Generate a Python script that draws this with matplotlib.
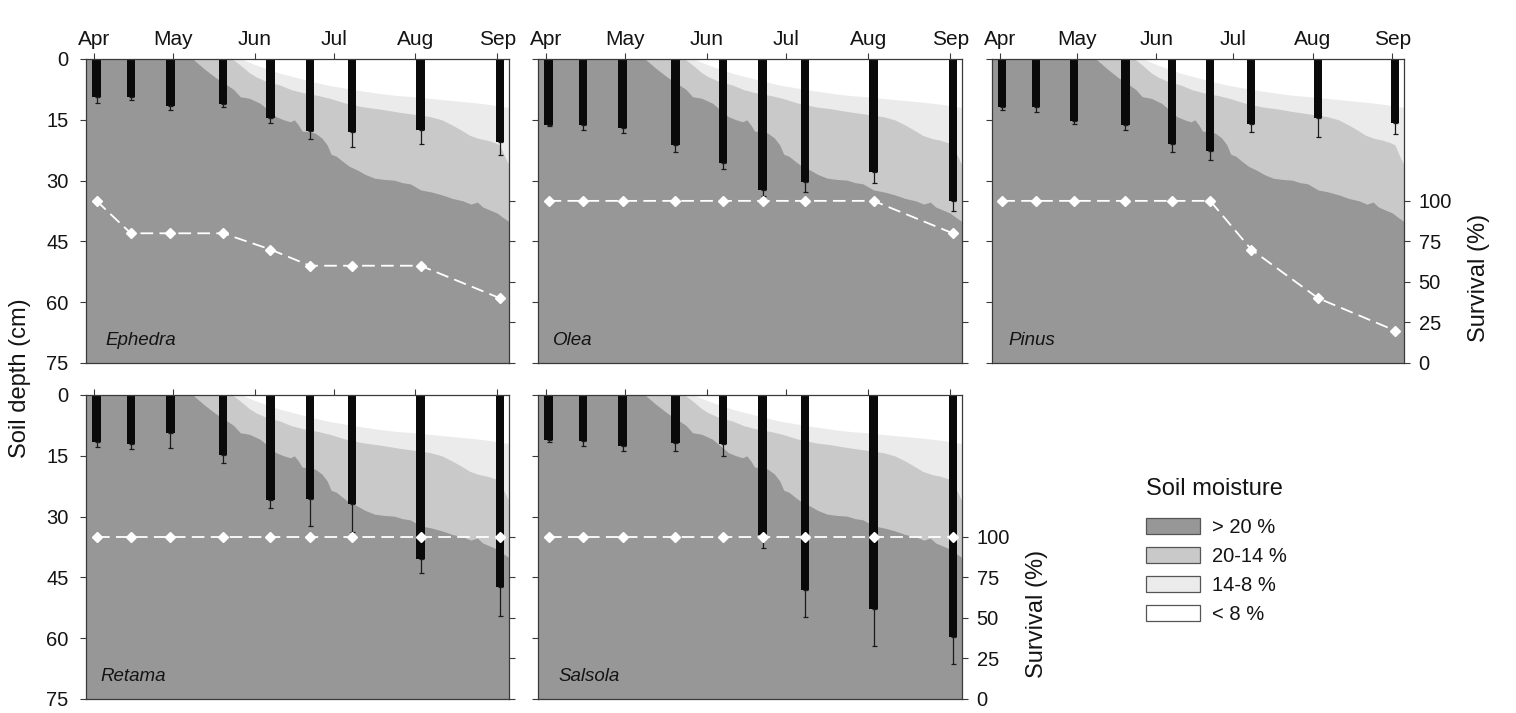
import matplotlib
matplotlib.use("Agg")
import matplotlib.pyplot as plt
from matplotlib.patches import Patch

plt.rcParams['font.family'] = ['Liberation Sans', 'DejaVu Sans']

# ---------------- data ----------------
species = ["Ephedra", "Olea", "Pinus", "Retama", "Salsola"]
months = ["Apr", "May", "Jun", "Jul", "Aug", "Sep"]
month_days = [91, 121, 152, 182, 213, 244]
sample_days = [92, 105, 120, 140, 158, 173, 189, 215, 245]

# root depth (cm) and lower error (cm)
root_ephedra = [9.4, 9.4, 11.6, 11.2, 14.6, 17.8, 17.9, 17.5, 20.6]
err_ephedra = [1.5, 0.7, 1.1, 0.7, 1.3, 1.9, 3.9, 3.5, 3.2]
root_olea = [16.4, 16.3, 17.1, 21.1, 25.7, 32.2, 30.4, 28.0, 35.0]
err_olea = [0.2, 1.2, 1.1, 1.9, 1.4, 1.6, 2.3, 2.7, 2.5]
root_pinus = [11.9, 11.8, 15.3, 16.3, 20.9, 22.6, 16.0, 14.6, 15.8]
err_pinus = [0.7, 1.2, 0.7, 1.3, 2.0, 2.2, 2.1, 4.7, 2.8]
root_retama = [11.5, 12.2, 9.4, 14.8, 26.0, 25.7, 27.0, 40.4, 47.4]
err_retama = [1.4, 1.1, 3.6, 1.9, 1.9, 6.6, 6.7, 3.4, 7.0]
root_salsola = [11.2, 11.4, 12.7, 11.8, 12.0, 34.5, 48.2, 52.8, 59.6]
err_salsola = [0.4, 1.1, 1.1, 2.1, 3.0, 3.2, 6.5, 9.1, 6.8]

# survival (%)
surv_ephedra = [100, 80, 80, 80, 70, 60, 60, 60, 40]
surv_olea = [100, 100, 100, 100, 100, 100, 100, 100, 80]
surv_pinus = [100, 100, 100, 100, 100, 100, 70, 40, 20]
surv_retama = [100, 100, 100, 100, 100, 100, 100, 100, 100]
surv_salsola = [100, 100, 100, 100, 100, 100, 100, 100, 100]

# soil moisture boundaries (depth, cm) vs day of year
b20_day = [88, 128.5, 133, 137, 141, 144, 146.5, 150, 154, 157, 160, 163, 165.5,
           167, 168.5, 170, 172, 175, 177.5, 179.5, 181, 183, 185.5, 188, 191,
           194, 197.5, 201, 205, 208, 211, 215, 219, 223, 227, 231, 234, 236.5,
           238.5, 241, 244, 246, 248.5]
b20_dep = [0, 0, 2.5, 4.5, 6.2, 7.5, 9.3, 9.7, 10.9, 12.5, 14.2, 15.0, 15.5,
           15.0, 16.2, 17.8, 17.9, 18.3, 19.5, 21.2, 23.5, 24.0, 25.3, 26.5, 27.4,
           28.5, 29.4, 29.7, 29.9, 30.5, 30.8, 32.3, 32.8, 33.5, 34.4, 35.0, 35.8,
           35.3, 36.5, 37.2, 38.0, 39.0, 40.1]
b14_day = [88, 143.5, 146, 148, 150, 152.5, 156, 161.5, 166, 171.5, 176, 180.5,
           186, 193, 199, 205.5, 212, 218.5, 223, 227, 230.5, 233.5, 237, 240,
           243, 245, 246.5, 248.5]
b14_dep = [0, 0, 1.2, 2.3, 3.4, 4.4, 5.4, 6.4, 7.6, 8.5, 9.0, 9.7,
           10.8, 11.8, 12.3, 13.0, 13.6, 14.2, 15.0, 16.3, 17.6, 18.8, 19.6, 20.0,
           20.6, 21.2, 23.5, 26.2]
b8_day = [88, 147, 152.5, 157, 161.5, 168, 174, 180, 186.5, 193, 199.5, 206,
          212, 218, 224.5, 231, 237, 242, 245.5, 248.5]
b8_dep = [0, 0, 1.5, 2.5, 3.5, 4.6, 5.6, 6.5, 7.2, 7.9, 8.5, 9.0,
          9.3, 9.7, 10.1, 10.5, 10.9, 11.3, 11.8, 11.9]

moisture_labels = ["> 20 %", "20-14 %", "14-8 %", "< 8 %"]

roots = [root_ephedra, root_olea, root_pinus, root_retama, root_salsola]
errs = [err_ephedra, err_olea, err_pinus, err_retama, err_salsola]
survs = [surv_ephedra, surv_olea, surv_pinus, surv_retama, surv_salsola]

# ---------------- style ----------------
W, H = 1516, 713
C_DARK, C_MED, C_LIGHT = "#979797", "#c9c9c9", "#ebebeb"
SPINE = "#3a3a3a"
TXT = "#141414"
boxes = [(86, 59, 509, 363), (538, 59, 962, 363), (992, 59, 1404, 363),
         (86, 395, 509, 699), (538, 395, 962, 699)]
name_x = [0.045, 0.036, 0.041, 0.033, 0.048]
left_labels = [True, False, False, True, False]
right_labels = [False, False, True, False, True]
top_labels = [True, True, True, False, False]

fig = plt.figure(figsize=(W / 100, H / 100), dpi=100)

for i, sp in enumerate(species):
    x0, y0, x1, y1 = boxes[i]
    ax = fig.add_axes([x0 / W, 1 - y1 / H, (x1 - x0) / W, (y1 - y0) / H])
    ax.set_xlim(88, 248.5)
    ax.set_ylim(75, 0)
    ax.fill_between(b8_day, b8_dep, 75, color=C_LIGHT, lw=0, zorder=1)
    ax.fill_between(b14_day, b14_dep, 75, color=C_MED, lw=0, zorder=1.1)
    ax.fill_between(b20_day, b20_dep, 75, color=C_DARK, lw=0, zorder=1.2)
    ax.bar(sample_days, roots[i], width=3.2, color="#0a0a0a", zorder=3)
    ax.errorbar(sample_days, roots[i], yerr=[[0] * 9, errs[i]], fmt="none",
                ecolor="#1a1a1a", elinewidth=0.9, capsize=1.8, capthick=0.9,
                zorder=3.1)
    ax.text(name_x[i], 0.075, sp, transform=ax.transAxes, fontsize=13.5,
            style="italic", color=TXT, va="center", ha="left", zorder=5)

    ax.xaxis.tick_top()
    ax.set_xticks(month_days)
    if top_labels[i]:
        ax.set_xticklabels(months)
    else:
        ax.set_xticklabels([])
    ax.tick_params(axis="x", direction="out", length=4.5, width=0.8,
                   color=SPINE, labelsize=15, pad=3, labelcolor=TXT)
    ax.set_yticks([0, 15, 30, 45, 60, 75])
    if not left_labels[i]:
        ax.set_yticklabels([])
    ax.tick_params(axis="y", direction="out", length=4.5, width=0.8,
                   color=SPINE, labelsize=14.5, pad=8, labelcolor=TXT)
    for s in ax.spines.values():
        s.set_color(SPINE)
        s.set_linewidth(0.9)
        s.set_zorder(6)

    ax2 = ax.twinx()
    ax2.set_ylim(0, 187.5)
    ax2.plot(sample_days, survs[i], color="white", lw=1.3,
             ls=(0, (7, 3.5)), marker="D", ms=4.8, mfc="white", mec="white",
             zorder=4)
    ax2.set_yticks([0, 25, 50, 75, 100])
    if right_labels[i]:
        ax2.set_ylabel("Survival (%)", fontsize=17, color=TXT)
        ax2.yaxis.set_label_coords(1 + 64 / (x1 - x0), 0.28)
    else:
        ax2.set_yticklabels([])
    ax2.tick_params(axis="y", direction="out", length=4.5, width=0.8,
                    color=SPINE, labelsize=14.5, pad=6, labelcolor=TXT)
    for s in ax2.spines.values():
        s.set_visible(False)

fig.text(20 / W, 1 - 378 / H, "Soil depth (cm)", rotation=90, fontsize=17,
         ha="center", va="center", color=TXT)

fig.text(1146 / W, 1 - 489 / H, "Soil moisture", fontsize=17, ha="left",
         va="center", color=TXT)
handles = [Patch(facecolor=c, edgecolor="#555555", lw=0.9)
           for c in [C_DARK, C_MED, C_LIGHT, "white"]]
leg = fig.legend(handles, moisture_labels,
                 loc="upper left", bbox_to_anchor=(1146 / W, 1 - 518 / H),
                 frameon=False, fontsize=14.5,
                 handlelength=2.7, handleheight=0.85, handletextpad=0.6,
                 labelspacing=0.5, borderpad=0, borderaxespad=0)
for t in leg.get_texts():
    t.set_color(TXT)

fig.savefig("out.png", dpi=100)
